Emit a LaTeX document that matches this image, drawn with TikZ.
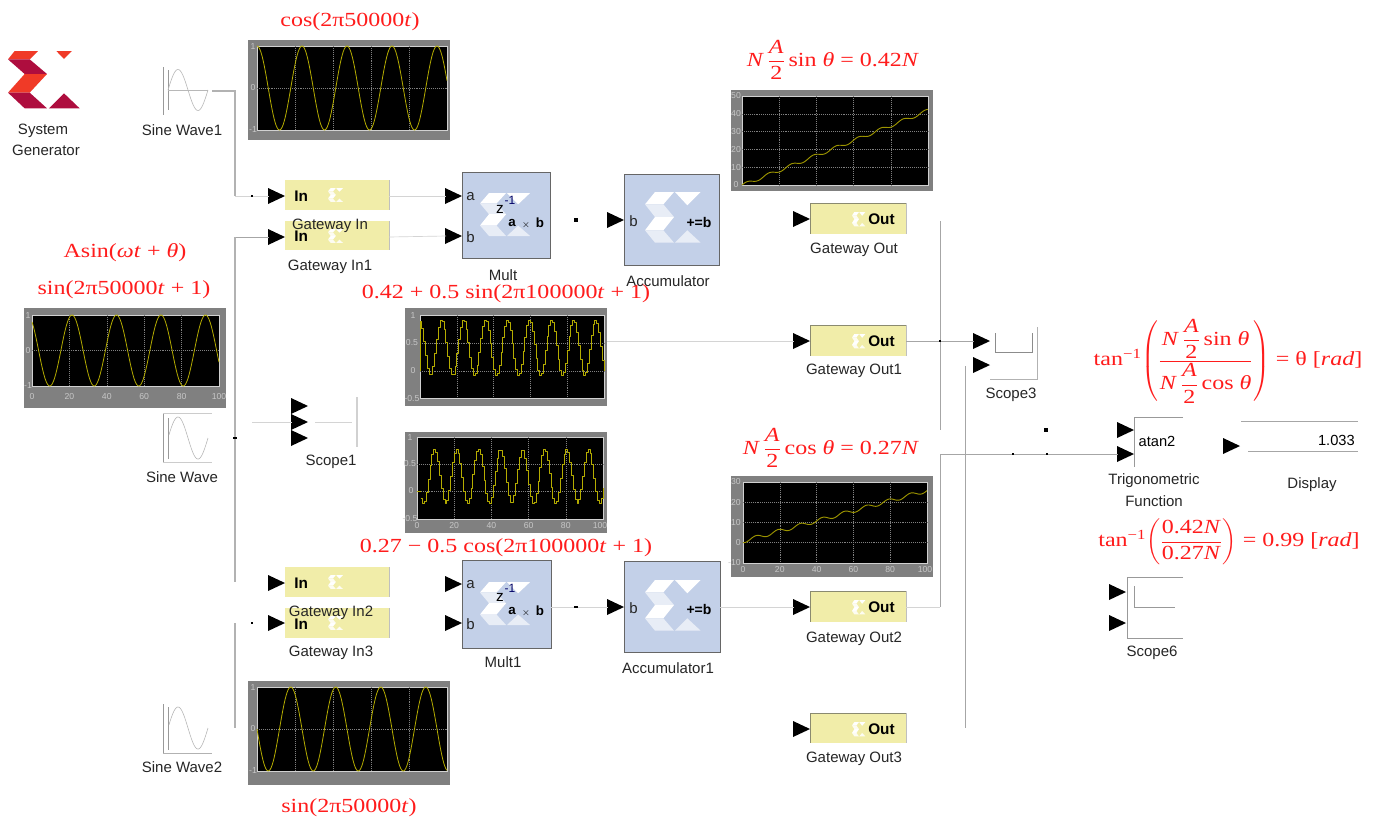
\documentclass[tikz,border=0pt]{standalone}
\usepackage{amsmath}
\usepackage{fontspec}
\setmainfont{Liberation Sans}
\newfontfamily\redf[FakeStretch=1.2]{Liberation Serif}
\definecolor{redt}{HTML}{FF1C1C}
\definecolor{gwfill}{HTML}{F1EDA9}
\definecolor{gwedge}{HTML}{8A8A70}
\definecolor{mfill}{HTML}{C3D0E8}
\definecolor{xorange}{HTML}{F03A27}
\definecolor{xcrim}{HTML}{AE0D3E}
\definecolor{scgray}{HTML}{808080}
\definecolor{yel}{HTML}{B4AC00}
\definecolor{yeld}{HTML}{9C9400}
\definecolor{pale}{HTML}{E8EDF6}
\tikzset{
  lbl/.style={font=\fontsize{11.25}{13}\selectfont,text=black!85,inner sep=0pt,align=center,yshift=-1.3pt},
  bigb/.style={font=\fontsize{11.5}{13}\bfseries\selectfont,text=black,inner sep=0pt},
  redm/.style={font=\fontsize{15}{18}\redf\selectfont,text=redt,inner sep=0pt,yshift=-1.5pt},
  redf/.style={font=\fontsize{15}{18}\redf\selectfont,text=redt,inner sep=0pt},
  tick/.style={font=\fontsize{6.5}{7}\selectfont,text=black!22,inner sep=0pt},
  gwbox/.style={fill=gwfill,draw=none,inner sep=0pt,outer sep=0pt},
  mbox/.style={fill=mfill,draw=black!60,line width=.5pt,inner sep=0pt,outer sep=0pt},
  scout/.style={fill=scgray,draw=none,inner sep=0pt,outer sep=0pt},
  scin/.style={fill=black,draw=black!18,line width=.7pt,inner sep=0pt,outer sep=0pt},
  griddot/.style={draw=black!50,line width=.45pt,densely dotted},
  curve/.style={draw=yel,line width=.6pt,line join=round},
  curved/.style={draw=yeld,line width=.7pt,line join=round},
  wire/.style={draw=black!35,line width=.45pt},
  wirel/.style={draw=black!17,line width=.5pt},
  bus/.style={draw=black!30,line width=1pt},
  icon/.style={draw=black!40,line width=.5pt},
  iconc/.style={draw=black!28,line width=.45pt},
  jdot/.style={fill=black,inner sep=0pt,minimum size=2pt,shape=rectangle},
}
% name, style, x0,y0,x1,y1
\newcommand\blk[6]{\node[#2,minimum width={(#5-#3)*0.75pt},minimum height={(#6-#4)*0.75pt}] (#1) at ({(#3+#5)/2},{(#4+#6)/2}) {};}
% name, tip x, y
\newcommand\port[3]{\coordinate (#1) at ({#2-16},#3);\fill[black] ({#2-17},{#3-8}) -- (#2,#3) -- ({#2-17},{#3+8}) -- cycle;}
% x,y,sx,sy,colour A,colour B : corporate logo
\newcommand\logo[6]{\begin{scope}[shift={(#1,#2)},xscale=#3,yscale=#4]
\fill[#5] (20,0)--(90,0)--(65,25)--(0,25)--cycle;
\fill[#6] (0,25)--(65,25)--(117,69)--(50,69)--cycle;
\fill[#5] (50,69)--(117,69)--(65,125)--(0,125)--cycle;
\fill[#6] (0,125)--(65,125)--(117,172)--(50,172)--cycle;
\fill[#5] (145,0)--(192,0)--(168,24)--cycle;
\fill[#6] (123,172)--(168,127)--(215,172)--cycle;
\end{scope}}
% x,y,sx,sy,colour A,colour B : pale block mark
\newcommand\wlogo[6]{\begin{scope}[shift={(#1,#2)},xscale=#3,yscale=#4]
\fill[#5] (30,0)--(87,0)--(55,37)--(0,37)--cycle;
\fill[#6] (0,37)--(55,37)--(87,75)--(30,75)--cycle;
\fill[#5] (30,75)--(87,75)--(55,115)--(0,115)--cycle;
\fill[#6] (0,115)--(55,115)--(87,152)--(30,152)--cycle;
\fill[#5] (90,0)--(167,0)--(127,40)--cycle;
\fill[#6] (90,152)--(127,115)--(167,152)--cycle;
\end{scope}}
\newcommand\gwin[4]{\blk{#1}{gwbox}{285}{#2}{389}{#3}
\draw[black!25,line width=.6pt] (#1.north east)--(#1.south east);
\node[bigb,anchor=west] (#1t) at (294,{(#2+#3)/2+1}) {In};
\wlogo{328}{#2+8}{.09}{.092}{white}{white!85!gwfill}}
\newcommand\gwout[3]{\blk{#1}{gwbox}{810}{#2}{906}{#3}
\draw[gwedge,line width=.5pt] (#1.north west)--(#1.south west) (#1.north west)--(#1.north east);
\draw[black!25,line width=.6pt] (#1.north east)--(#1.south east);
\node[bigb,anchor=west] (#1t) at (868,{(#2+#3)/2+1}) {Out};
\wlogo{852}{#2+9}{.08}{.095}{white}{white!85!gwfill}}
\newcommand\halfA{\ensuremath{\dfrac{\hbox{\textit{A}}}{\hbox{2}}}}
\newcommand\nm{\textit{N}}
\newcommand\tk{\textit{t}}
\begin{document}
\begin{tikzpicture}[x=0.75pt,y=-0.75pt]
\useasboundingbox (0,0) rectangle (1376,818);
\fill[white] (0,0) rectangle (1376,818);

% ---------- logo
\logo{8}{51}{.3333}{.3333}{xorange}{xcrim}
\node[lbl] (sysa) at (43,129) {System};
\node[lbl] (sysb) at (46,149) {Generator};

% ---------- oscilloscopes
\blk{sc1o}{scout}{248}{40}{450}{140}
\blk{sc1}{scin}{257}{46}{447}{130}
\foreach \v in {295,333,371,409} \draw[griddot] (\v,46)--(\v,130);
\draw[griddot] (257,88)--(447,88);
\draw[curve] plot[domain=257:447,samples=190] (\x,{88-42*cos(8*(\x-257))});
\node[tick] (sc1a) at (253,47) {1};\node[tick] (sc1b) at (253,88) {0};\node[tick] (sc1c) at (253,130) {-1};

\blk{sc2o}{scout}{24}{308}{226}{408}
\blk{sc2}{scin}{32}{315}{219}{386}
\foreach \v in {69.4,106.8,144.2,181.6} \draw[griddot] (\v,315)--(\v,386);
\draw[griddot] (32,350.5)--(219,350.5);
\draw[curve] plot[domain=32:219,samples=190] (\x,{350.5-35.5*cos(8.09*(\x-72))});
\node[tick] (sc2a) at (28,316) {1};\node[tick] (sc2b) at (28,351) {0};\node[tick] (sc2c) at (28,386) {-1};
\foreach \v/\w in {32/0,69.4/20,106.8/40,144.2/60,181.6/80,219/100} \node[tick] (sc2x\w) at (\v,397) {\w};

\blk{sc3o}{scout}{248}{681}{450}{785}
\blk{sc3}{scin}{257}{687}{447}{771}
\foreach \v in {295,333,371,409} \draw[griddot] (\v,687)--(\v,771);
\draw[griddot] (257,729)--(447,729);
\draw[curve] plot[domain=257:447,samples=190] (\x,{729+42*sin(8*(\x-257))});
\node[tick] (sc3a) at (253,688) {1};\node[tick] (sc3b) at (253,729) {0};\node[tick] (sc3c) at (253,771) {-1};

\blk{sc4o}{scout}{405}{308}{607}{406}
\blk{sc4}{scin}{420}{315}{604}{398}
\foreach \v in {456.8,493.6,530.4,567.2} \draw[griddot] (\v,315)--(\v,398);
\draw[griddot] (420,343)--(604,343) (420,371)--(604,371);
\draw[curve] (420,371)--(420,322);
\draw[curve] plot[const plot,domain=0:100,samples=101] ({420+1.84*\x},{371-55.3*(.42+.5*cos(16.3636*(1.84*\x+420-441)))});
\node[tick] (sc4a) at (413,316) {1};\node[tick] (sc4b) at (412,343) {0.5};\node[tick] (sc4c) at (413,371) {0};\node[tick] (sc4d) at (412,399) {-0.5};

\blk{sc5o}{scout}{405}{432}{607}{533}
\blk{sc5}{scin}{417}{437}{603}{519}
\foreach \v in {454.2,491.4,528.6,565.8} \draw[griddot] (\v,437)--(\v,519);
\draw[griddot] (417,464)--(603,464) (417,491)--(603,491);
\draw[curve] (417,491)--(421,491);
\draw[curve] plot[const plot,domain=2:100,samples=99] ({417+1.86*\x},{491-54*(.27+.5*cos(16.3636*(1.86*\x+417-434)))});
\node[tick] (sc5a) at (410,438) {1};\node[tick] (sc5b) at (410,464) {0.5};\node[tick] (sc5c) at (411,491) {0};\node[tick] (sc5d) at (410,519) {-0.5};
\foreach \v/\w in {417/0,454.2/20,491.4/40,528.6/60,565.8/80,600/100} \node[tick] (sc5x\w) at (\v,526) {\w};

\blk{sc6o}{scout}{731}{90}{933}{191}
\blk{sc6}{scin}{742}{96}{928}{185}
\foreach \v in {779.2,816.4,853.6,890.8} \draw[griddot] (\v,96)--(\v,185);
\foreach \v in {113.8,131.6,149.4,167.2} \draw[griddot] (742,\v)--(928,\v);
\draw[curved] plot[domain=0:100,samples=150] ({742+1.86*\x},{185-1.78*(.42*\x-.96*(cos(30*\x+103)-cos(103)))});
\foreach \v/\w in {185/0,167.2/10,149.4/20,131.6/30,113.8/40,96/50} \node[tick] (sc6y\w) at (736,\v) {\w};

\blk{sc7o}{scout}{731}{476}{933}{577}
\blk{sc7}{scin}{743}{482}{927}{563}
\foreach \v in {779.8,816.6,853.4,890.2} \draw[griddot] (\v,482)--(\v,563);
\foreach \v in {502.25,522.5,542.75} \draw[griddot] (743,\v)--(927,\v);
\draw[curved] plot[domain=0:100,samples=150] ({743+1.84*\x},{542.75-2.025*(.25*\x-.96*(sin(30*\x+57)-sin(57)))});
\foreach \v/\w in {482/30,502.25/20,522.5/10,542.75/0,563/-10} \node[tick,anchor=east] (sc7y\w) at (741,\v) {\w};
\foreach \v/\w in {743/0,779.8/20,816.6/40,853.4/60,890.2/80,925/100} \node[tick] (sc7x\w) at (\v,570) {\w};

% ---------- sine sources
\coordinate (sw1) at (212,91);
\draw[icon] (163,67)--(163,115) (168,70)--(168,110);
\draw[iconc] (168,90)--(208,90);
\draw[iconc] plot[domain=168:208,samples=50] (\x,{90-20.5*sin(9*(\x-168))});
\node[lbl] (sw1t) at (182,128) {Sine Wave1};

\draw[icon] (163,413)--(163,462) (168,418)--(168,459);
\draw[black!20,line width=.4pt] (163,413)--(212,413) (163,462)--(212,462);
\draw[iconc] plot[domain=169:208,samples=50] (\x,{438-21*sin(9*(\x-168))});
\node[lbl] (sw0t) at (182,475) {Sine Wave};

\draw[icon] (163,704)--(163,753) (168,707)--(168,750);
\draw[black!30,line width=.4pt] (163,753)--(212,753);
\draw[iconc] plot[domain=169:208,samples=50] (\x,{728-21*sin(9*(\x-168))});
\node[lbl] (sw2t) at (182,765) {Sine Wave2};

% ---------- gateway in
\gwin{gi0}{180}{210}{}
\gwin{gi1}{221}{250}{}
\gwin{gi2}{567}{597}{}
\gwin{gi3}{608}{638}{}
\node[lbl] (gi0l) at (330,224) {Gateway In};
\node[lbl] (gi1l) at (330,265) {Gateway In1};
\node[lbl] (gi2l) at (331,611) {Gateway In2};
\node[lbl] (gi3l) at (331,651) {Gateway In3};
\port{pi0}{285}{196}\port{pi1}{285}{237}\port{pi2}{285}{583}\port{pi3}{285}{623}

% ---------- mult
\blk{m0}{mbox}{462}{172}{550}{258}
\wlogo{480}{193}{.30}{.283}{white}{pale}
\node[lbl,anchor=west,yshift=1.3pt] (m0a) at (466,197) {a};
\node[lbl,anchor=west,yshift=1.3pt] (m0b) at (466,237) {b};
\node[font=\fontsize{11.5}{13}\selectfont,inner sep=0pt] (m0z) at (500,209) {z};
\node[font=\fontsize{9}{10}\selectfont,text=blue!40!black,inner sep=0pt] (m0e) at (510,200) {-1};
\node[font=\fontsize{10}{12}\bfseries\selectfont,inner sep=0pt] (m0p) at (512,223) {a};
\node[font=\fontsize{7}{8}\selectfont,inner sep=0pt] (m0x) at (526,225) {$\times$};
\node[font=\fontsize{10}{12}\bfseries\selectfont,inner sep=0pt] (m0q) at (540,223) {b};
\node[lbl] (m0l) at (503,273) {Mult};
\port{pm0a}{462}{196}\port{pm0b}{462}{236}

\blk{m1}{mbox}{462}{560}{551}{648}
\wlogo{480}{582}{.30}{.283}{white}{pale}
\node[lbl,anchor=west,yshift=1.3pt] (m1a) at (466,585) {a};
\node[lbl,anchor=west,yshift=1.3pt] (m1b) at (466,624) {b};
\node[font=\fontsize{11.5}{13}\selectfont,inner sep=0pt] (m1z) at (500,597) {z};
\node[font=\fontsize{9}{10}\selectfont,text=blue!40!black,inner sep=0pt] (m1e) at (510,588) {-1};
\node[font=\fontsize{10}{12}\bfseries\selectfont,inner sep=0pt] (m1p) at (512,611) {a};
\node[font=\fontsize{7}{8}\selectfont,inner sep=0pt] (m1x) at (526,613) {$\times$};
\node[font=\fontsize{10}{12}\bfseries\selectfont,inner sep=0pt] (m1q) at (540,611) {b};
\node[lbl] (m1l) at (503,660) {Mult1};
\port{pm1a}{462}{584}\port{pm1b}{462}{623}

% ---------- accumulators
\blk{a0}{mbox}{624}{174}{719}{265}
\wlogo{645}{192}{.3333}{.3333}{white}{pale}
\node[lbl,anchor=west,yshift=1.3pt] (a0b) at (629,221) {b};
\node[font=\fontsize{10.5}{12}\bfseries\selectfont,inner sep=0pt] (a0p) at (699,222) {+=b};
\node[lbl] (a0l) at (668,279) {Accumulator};
\port{pa0}{624}{220}

\blk{a1}{mbox}{624}{561}{720}{652}
\wlogo{645}{580}{.3333}{.3333}{white}{pale}
\node[lbl,anchor=west,yshift=1.3pt] (a1b) at (629,608) {b};
\node[font=\fontsize{10.5}{12}\bfseries\selectfont,inner sep=0pt] (a1p) at (699,609) {+=b};
\node[lbl] (a1l) at (668,666) {Accumulator1};
\port{pa1}{624}{607}

% ---------- gateway out
\gwout{go0}{203}{234}
\gwout{go1}{325}{356}
\gwout{go2}{591}{622}
\gwout{go3}{713}{743}
\node[lbl] (go0l) at (854,248) {Gateway Out};
\node[lbl] (go1l) at (854,369) {Gateway Out1};
\node[lbl] (go2l) at (854,637) {Gateway Out2};
\node[lbl] (go3l) at (854,757) {Gateway Out3};
\port{po0}{810}{219}\port{po1}{810}{341}\port{po2}{810}{607}\port{po3}{810}{729}

% ---------- scope1
\port{ps1a}{308}{406}\port{ps1b}{308}{422}\port{ps1c}{308}{438}
\coordinate (s1wa) at (252,422);
\coordinate (s1wb) at (315,422);
\coordinate (s1wc) at (352,422);
\draw[black!18,line width=1pt] (357,397)--(357,447);
\node[lbl] (s1l) at (331,460) {Scope1};

% ---------- scope3
\port{ps3a}{990}{341}\port{ps3b}{990}{365}
\draw[black!45,line width=.45pt] (995,333)--(995,352)--(1032,352)--(1032,333);
\draw[black!30,line width=.45pt] (1037,327)--(1037,379)--(990,379);
\node[lbl] (s3l) at (1011,393) {Scope3};

% ---------- trig
\port{pt0}{1134}{430}\port{pt1}{1134}{454}
\draw[black!40,line width=.45pt] (1183,417)--(1134,417)--(1134,467);
\node[font=\fontsize{11}{13}\selectfont,inner sep=0pt] (ttx) at (1157,441) {atan2};
\node[lbl] (tl) at (1154,488) {Trigonometric\\[3.5pt]Function};

% ---------- display
\port{pd}{1240}{446}
\draw[black!35,line width=.45pt] (1241,421)--(1358,421) (1248,451)--(1358,451);
\node[font=\fontsize{11}{13}\selectfont,inner sep=0pt,anchor=east] (dv) at (1355,440) {1.033};
\node[lbl] (dl) at (1312,483) {Display};

% ---------- scope6
\port{p6a}{1126}{592}\port{p6b}{1126}{623}
\draw[black!40,line width=.45pt] (1183,577)--(1127,577)--(1127,638)--(1183,638);
\draw[black!40,line width=.45pt] (1134,586)--(1134,607)--(1175,607);
\node[lbl] (s6l) at (1152,651) {Scope6};

% ---------- wires
\coordinate (b1) at (235,196);
\coordinate (b2) at (235,237);
\coordinate (b3) at (235,582);
\coordinate (b4) at (235,623);
\coordinate (b5) at (235,728);
\draw[bus] (sw1) -| (b1);
\draw[wirel] (b1) -- (pi0);
\draw[wire] (b2) -- (pi1);
\draw[bus] (b2) -- (b3);
\draw[bus] (b4) -- (b5);
\node[jdot,minimum size=2.2pt] (d1) at (252,196) {};
\node[jdot,minimum width=3.5pt,minimum height=2pt] (d2) at (235,438) {};
\node[jdot,minimum size=1.5pt] (d3) at (252,623) {};
\node[jdot,minimum size=3pt] (d4) at (576,220) {};
\draw[wirel] (s1wa) -- (ps1b);
\draw[wirel] (s1wb) -- (s1wc);
\draw[wirel] (gi0.east |- pi0) -- (pm0a);
\draw[wirel] (gi1.east |- pi1) -- (pm0b);
\draw[wirel] (a1.east |- po2) -- (po2);
\draw[wirel] (m1.east |- pa1) -- (pa1);
\node[jdot,minimum width=3.5pt,minimum height=2pt] (d5) at (576,607) {};
\draw[wirel] (sc4o.east |- po1) -- (po1);
\draw[wire] (go1.east |- ps3a) -- (ps3a);
\coordinate (v1) at (940,221);
\coordinate (v2) at (940,430);
\coordinate (v3) at (940,454);
\coordinate (v4) at (940,607);
\coordinate (v5) at (965,366);
\coordinate (v6) at (965,728);
\draw[wire] (v1) -- (v2);
\draw[wire] (v3) -- (v4);
\draw[wirel] (v4) -- (go2.east |- v4);
\draw[wire,line width=.7pt] (v5) -- (v6);
\draw[wire] (v3) -- (pt1);
\node[jdot,minimum size=1.5pt] (d6) at (940,341) {};
\node[jdot,minimum size=2.2pt] (d7) at (1013,454) {};
\node[jdot,minimum size=1pt] (d8) at (1047,454) {};
\node[jdot,minimum size=2.5pt] (d9) at (1046,430) {};

% ---------- red formulas
\node[redm] (f1) at (350,20) {cos(2π50000\tk)};
\node[redm] (f2) at (349,806) {sin(2π50000\tk)};
\node[redm] (f3) at (125,251) {Asin(\textit{ωt} + \textit{θ})};
\node[redm] (f4) at (124,288) {sin(2π50000\tk{} + 1)};
\node[redm] (f5) at (506,292) {0.42 + 0.5 sin(2π100000\tk{} + 1)};
\node[redm] (f6) at (506,546) {0.27 − 0.5 cos(2π100000\tk{} + 1)};
\node[redf] (f7) at (833,60) {\nm\,\halfA\,sin \textit{θ} = 0.42\nm};
\node[redf] (f8) at (831,448) {\nm\,\halfA\,cos \textit{θ} = 0.27\nm};
\node[redf] (f9) at (1228,361) {tan\textsuperscript{−1}$\left(\dfrac{\hbox{\nm\,\halfA\,sin \textit{θ}}}{\hbox{\nm\,\halfA\,cos \textit{θ}}}\right)$ = θ [\textit{rad}]};
\node[redf] (f10) at (1229,542) {tan\textsuperscript{−1}$\left(\dfrac{\hbox{0.42\nm}}{\hbox{0.27\nm}}\right)$ = 0.99 [\textit{rad}]};
\end{tikzpicture}
\end{document}
